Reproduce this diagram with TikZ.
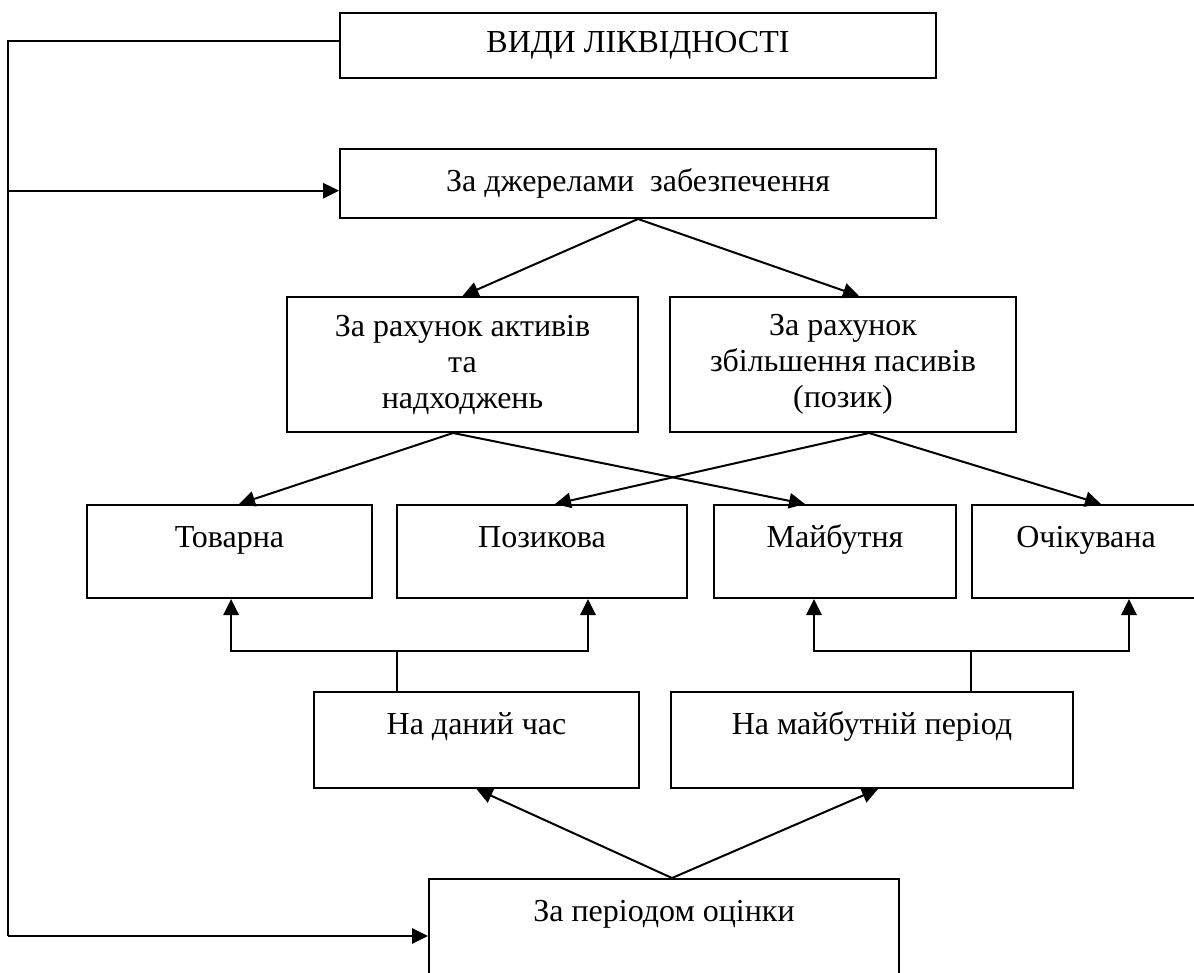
\documentclass[tikz,border=0pt]{standalone}
\usepackage{fontspec}
\setmainfont{Liberation Serif}
\usetikzlibrary{arrows.meta,calc}
\begin{document}
\begin{tikzpicture}[x=0.75pt,y=-0.75pt,
  lw/.style={line width=1.5pt},
  box/.style={draw,lw,rectangle,inner sep=0pt,align=center,
    font=\fontsize{24}{27}\selectfont},
  lowbox/.style={box,text height=31.5pt,anchor=north west},
  conn/.style={lw},
  arr/.style={lw,-{Triangle[length=12pt,width=11.5pt]}},
  darr/.style={lw,{Triangle[length=12pt,width=11.5pt]}-{Triangle[length=12pt,width=11.5pt]}}]
\useasboundingbox (0,0) rectangle (1194,973);
\clip (0,0) rectangle (1194,973);
% boxes
\node[box,minimum width=447pt,minimum height=48.75pt] (vydy) at (638,45.5) {ВИДИ ЛІКВІДНОСТІ};
\node[box,minimum width=447pt,minimum height=51.75pt] (dzh) at (638,183.5) {За джерелами\ \ забезпечення};
\node[box,minimum width=263.25pt,minimum height=101.25pt] (akt) at (462.5,364.5) {За рахунок активів\\та\\надходжень};
\node[box,minimum width=259.5pt,minimum height=101.25pt] (pas) at (843,364.5) {За рахунок\\збільшення пасивів\\(позик)};
\node[lowbox,minimum width=213.75pt,text depth=38.25pt] (tov) at (86,504) {Товарна};
\node[lowbox,minimum width=217.5pt,text depth=38.25pt] (poz) at (396,504) {Позикова};
\node[lowbox,minimum width=181.5pt,text depth=38.25pt] (mai) at (713,504) {Майбутня};
\node[lowbox,minimum width=171pt,text depth=38.25pt] (och) at (971,504) {Очікувана};
\node[lowbox,minimum width=243.75pt,text depth=40.5pt] (dan) at (313,691) {На даний час};
\node[lowbox,minimum width=301.5pt,text depth=40.5pt] (maip) at (670,691) {На майбутній період};
\node[lowbox,minimum width=352.5pt,text depth=67.5pt] (per) at (428,878) {За періодом оцінки};
% left bus
\coordinate (lb) at (8,936);
\coordinate (dzin) at ([yshift=-5.4pt]dzh.west);
\draw[conn] ([yshift=3.4pt]vydy.west) -| (lb);
\draw[arr] (lb) -- (lb -| per.west);
\draw[arr] (dzin -| lb) -- (dzin);
% source split
\draw[arr] (dzh.south) -- (akt.north);
\draw[arr] (dzh.south) -- ([xshift=12pt]pas.north);
\coordinate (aktout) at ([xshift=-7.1pt]akt.south);
\coordinate (pasout) at ([xshift=19.5pt]pas.south);
\draw[arr] (aktout) -- ([xshift=7.1pt]tov.north);
\draw[arr] (aktout) -- ([xshift=-22.5pt]mai.north);
\draw[arr] (pasout) -- ([xshift=9.75pt]poz.north);
\draw[arr] (pasout) -- ([xshift=11.25pt]och.north);
% period tree
\coordinate (dj) at (397,651);
\coordinate (mj) at (971,651);
\draw[conn] (dan.north -| dj) -- (dj);
\draw[darr] ([xshift=1.2pt]tov.south) |- (dj) -| ([xshift=34.5pt]poz.south);
\draw[conn] (maip.north -| mj) -- (mj);
\draw[darr] ([xshift=-15.75pt]mai.south) |- (mj) -| ([xshift=32.25pt]och.south);
\coordinate (perout) at ([xshift=6pt]per.north);
\draw[arr] (perout) -- (dan.south);
\draw[arr] (perout) -- ([xshift=4.5pt]maip.south);
\end{tikzpicture}
\end{document}
